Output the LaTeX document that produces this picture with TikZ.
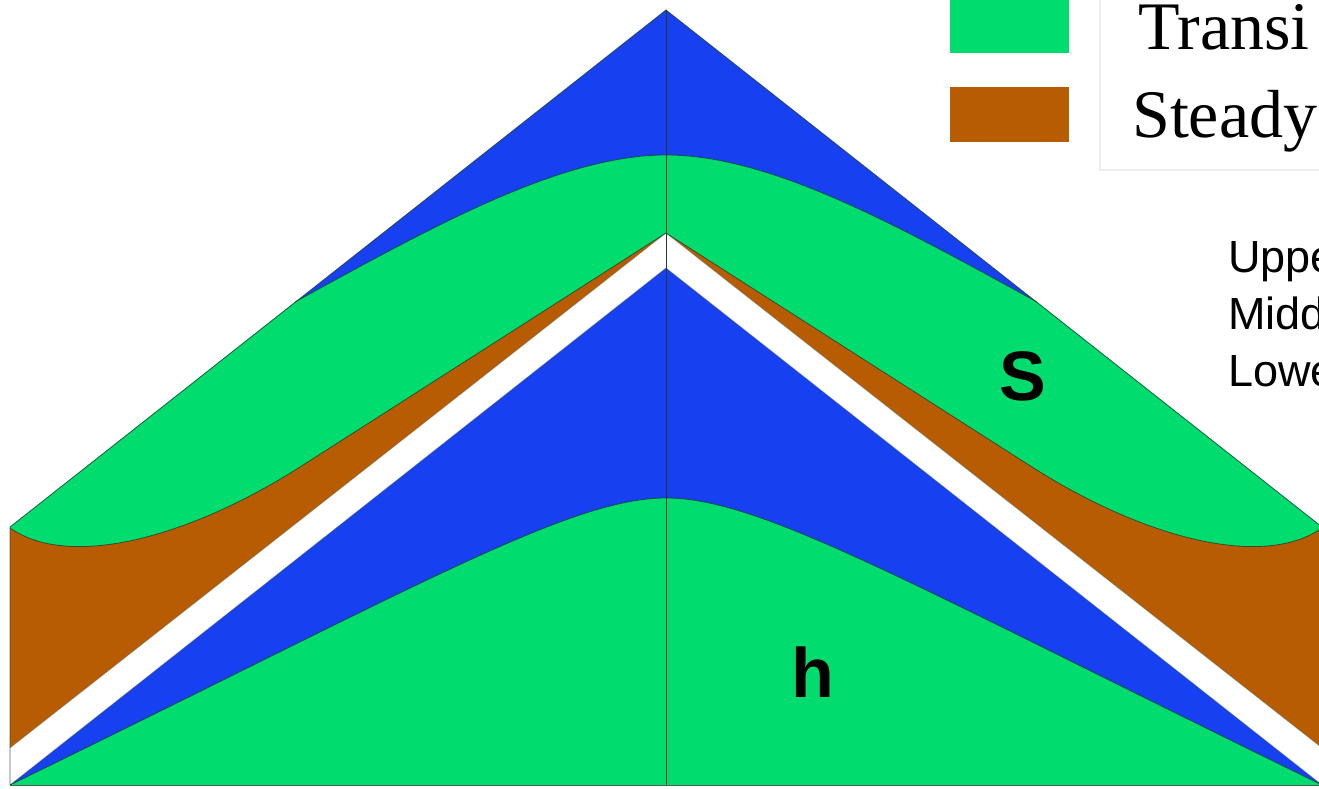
\documentclass[tikz,border=0pt]{standalone}
\usepackage{fontspec}
\setmainfont{Liberation Serif}
\newfontfamily\arialfont{Liberation Sans}
\definecolor{lgreen}{RGB}{0,220,110}
\definecolor{lblue}{RGB}{22,64,240}
\definecolor{lbrown}{RGB}{184,92,4}
\definecolor{edgecol}{RGB}{30,60,40}
\begin{document}
\begin{tikzpicture}[x=1pt,y=-1pt,
  edge/.style={draw=edgecol, line width=0.8pt, opacity=0.75},
  midline/.style={draw=edgecol, line width=1pt},
  lab/.style={font=\arialfont\bfseries\fontsize{70}{80}\selectfont, inner sep=0pt},
  legtext/.style={font=\fontsize{68}{80}\selectfont, inner sep=0pt, anchor=base west},
  sidetext/.style={font=\arialfont\fontsize{45}{54}\selectfont, inner sep=0pt, anchor=base west},
  swatch/.style={inner sep=0pt}]
\useasboundingbox (0,0) rectangle (1319,789);
\fill[white] (0,0) rectangle (1319,789);
% blue base
\fill[lblue] (10,527) -- (666,10) -- (1322,527) -- (1322,785) -- (10,785) -- cycle;
% upper green
\fill[lgreen] (10,527) -- (295,302) .. controls (430,228) and (560,155) .. (666,155)
  .. controls (772,155) and (902,228) .. (1037,302) -- (1322,527) -- (1322,748)
  -- (666,233) -- (10,748) -- cycle;
% brown bands
\fill[lbrown] (10,528) .. controls (70,570) and (190,537) .. (300,467) -- (666,233) -- (10,748) -- cycle;
\fill[lbrown] (1322,528) .. controls (1262,570) and (1142,537) .. (1032,467) -- (666,233) -- (1322,748) -- cycle;
% white band
\fill[white] (10,748) -- (666,233) -- (1322,748) -- (1322,785) -- (666,268) -- (10,785) -- cycle;
% lower green
\fill[lgreen] (10,785) .. controls (420,585) and (570,498) .. (666,498)
  .. controls (762,498) and (912,585) .. (1322,785) -- cycle;
% outlines
\draw[edge] (10,785) -- (10,527) -- (666,10) -- (1322,527);
\draw[edge] (295,302) .. controls (430,228) and (560,155) .. (666,155)
  .. controls (772,155) and (902,228) .. (1037,302);
\draw[edge] (10,528) .. controls (70,570) and (190,537) .. (300,467) -- (666,233)
  -- (1032,467) .. controls (1142,537) and (1262,570) .. (1322,528);
\draw[edge, opacity=0.3] (10,748) -- (666,233) -- (1322,748);
\draw[edge, opacity=0.4] (10,785) -- (666,268) -- (1322,785);
\draw[edge] (10,785) .. controls (420,585) and (570,498) .. (666,498)
  .. controls (762,498) and (912,585) .. (1322,785);
\draw[edge] (10,785) -- (1322,785);
\draw[midline] (666,10) -- (666,785);
% labels
\node[lab] (s) at (1023,376) {S};
\node[lab] (h) at (813,672) {h};
% legend
\draw[black!7, line width=1.5pt] (1100,-5) rectangle (1330,170);
\node[swatch, fill=lgreen, minimum width=119pt, minimum height=53pt, anchor=north west] (sw1) at (950,0) {};
\node[swatch, fill=lbrown, minimum width=119pt, minimum height=55pt, anchor=north west] (sw2) at (950,87) {};
\node[legtext] (t1) at (1138,50) {Transi};
\node[legtext] (t2) at (1132,138) {Steady};
% side text
\node[sidetext] (u1) at (1228,272) {Uppe};
\node[sidetext] (u2) at (1228,329) {Midd};
\node[sidetext] (u3) at (1228,386) {Lowe};
\end{tikzpicture}
\end{document}
